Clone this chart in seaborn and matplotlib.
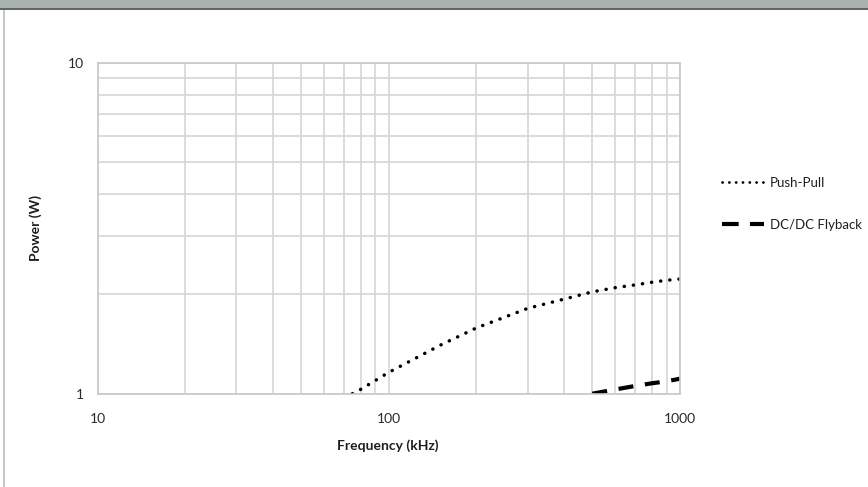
import matplotlib
matplotlib.use("Agg")
import matplotlib.pyplot as plt
import seaborn as sns
import pandas as pd
from matplotlib.patches import Rectangle
from matplotlib.lines import Line2D
from matplotlib.ticker import FixedLocator, NullFormatter

sns.set_theme(style="white")
plt.rcParams['font.family'] = ['Lato', 'DejaVu Sans']

pp_freq = [75, 80, 100, 150, 200, 300, 400, 500, 600, 700, 800, 900, 1000]
pp_power = [1.0, 1.03, 1.16, 1.40, 1.58, 1.81, 1.93, 2.03, 2.09, 2.13, 2.17, 2.20, 2.22]
fb_freq = [500, 600, 700, 800, 900, 1000]
fb_power = [1.0, 1.03, 1.055, 1.075, 1.09, 1.11]
x_ticks = [10, 100, 1000]
y_ticks = [1, 10]

df_pp = pd.DataFrame({"freq": pp_freq, "power": pp_power})
df_fb = pd.DataFrame({"freq": fb_freq, "power": fb_power})

W, H = 868, 487
fig = plt.figure(figsize=(W / 100, H / 100), dpi=100)
fig.patch.set_facecolor("white")

# frame decorations
fig.add_artist(Rectangle((0, 1 - 8 / H), 1, 8 / H, transform=fig.transFigure,
                         facecolor="#a9b2ae", edgecolor="none"))
fig.add_artist(Rectangle((0, 1 - 10 / H), 1, 2 / H, transform=fig.transFigure,
                         facecolor="#5f6563", edgecolor="none"))
fig.add_artist(Rectangle((3 / W, 0), 2 / W, 1 - 10 / H, transform=fig.transFigure,
                         facecolor="#c4c8c6", edgecolor="none"))

left, right, top, bottom = 97.5, 680, 62.5, 393.7
ax = fig.add_axes([left / W, 1 - bottom / H, (right - left) / W, (bottom - top) / H])

DOT = (0, (0.05, 2.6))
DASH = (0, (3.6, 2.8))

sns.lineplot(data=df_pp, x="freq", y="power", ax=ax, color="black",
             linestyle=DOT, linewidth=2.5)
sns.lineplot(data=df_fb, x="freq", y="power", ax=ax, color="black",
             linestyle=DASH, linewidth=3.0)
ax.lines[0].set_dash_capstyle("round")

ax.set_xscale("log")
ax.set_yscale("log")
ax.set_xlim(10, 1000)
ax.set_ylim(1, 10)

ax.xaxis.set_major_locator(FixedLocator(x_ticks))
ax.yaxis.set_major_locator(FixedLocator(y_ticks))
ax.set_xticklabels([str(t) for t in x_ticks])
ax.set_yticklabels([str(t) for t in y_ticks])
ax.xaxis.set_minor_formatter(NullFormatter())
ax.yaxis.set_minor_formatter(NullFormatter())
ax.grid(True, which="both", color="#d6d6d6", linewidth=1.2)
ax.set_axisbelow(True)
for s in ax.spines.values():
    s.set_color("#c8c8c8")
    s.set_linewidth(1.2)
ax.tick_params(axis="both", which="both", length=0, labelsize=10, colors="#2a2a2a")
ax.tick_params(axis="x", pad=14)
ax.tick_params(axis="y", pad=10)

ax.set_xlabel("")
ax.set_ylabel("")
fig.text(388 / W, 1 - 446 / H, "Frequency (kHz)", fontsize=10, fontweight="bold",
         color="#1e1e1e", ha="center", va="center")
fig.text(36 / W, 1 - 228 / H, "Power (W)", fontsize=10, fontweight="bold",
         color="#1e1e1e", ha="center", va="center", rotation=90)

h1 = Line2D([0], [0], color="black", linestyle=(0, (0.05, 2.4)), linewidth=2.0)
h1.set_dash_capstyle("round")
h2 = Line2D([0], [0], color="black", linestyle=(0, (4.0, 2.7)), linewidth=3.0)
leg = fig.legend([h1, h2], ["Push-Pull", "DC/DC Flyback"], loc="upper left",
                 bbox_to_anchor=(722 / W, 1 - 177 / H), frameon=False, borderpad=0,
                 borderaxespad=0, fontsize=9.5, handlelength=3.18, handletextpad=0.45,
                 labelspacing=2.25)
for t in leg.get_texts():
    t.set_color("#1e1e1e")

fig.savefig("out.png", dpi=100, facecolor="white")
